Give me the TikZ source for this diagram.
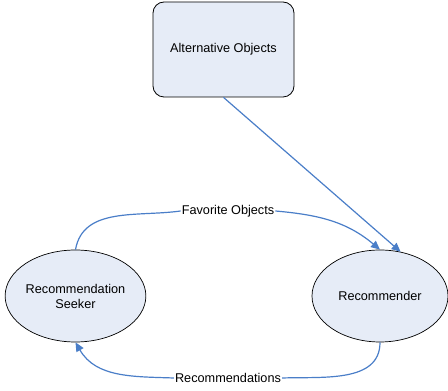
\documentclass[tikz,border=0pt]{standalone}
\usepackage{fontspec}
\setmainfont{Liberation Sans}
\usetikzlibrary{shapes.geometric,arrows.meta}
\definecolor{linkblue}{RGB}{74,126,200}
\definecolor{shapefill}{RGB}{230,236,247}
\tikzset{
  x=1pt,y=1pt,
  every node/.style={font=\fontsize{12.7}{15}\selectfont},
  boxnode/.style={draw=black,fill=shapefill,rounded corners=11pt,line width=0.8pt,minimum width=141pt,minimum height=95pt,inner sep=0pt},
  ellnode/.style={ellipse,draw=black,fill=shapefill,line width=0.7pt,minimum width=136pt,minimum height=92pt,inner sep=0pt,align=center},
  link/.style={draw=linkblue,line width=1.2pt},
  linkarrow/.style={link,-{Triangle[length=9pt,width=8pt]}},
  lbl/.style={inner sep=1pt}
}
\begin{document}
\begin{tikzpicture}
\useasboundingbox (0,0) rectangle (448,391);
\node[boxnode] (alt) at (223.5,341.5) {Alternative Objects};
\node[ellnode] (seeker) at (75.5,95) {Recommendation\\Seeker};
\node[ellnode] (rec) at (380,95) {Recommender};
\node[lbl] (fav) at (228,180) {Favorite Objects};
\node[lbl] (recs) at (228,13) {Recommendations};
\coordinate (altb) at (224,96.5+195);
\draw[linkarrow] (alt.south) -- (rec.65);
\draw[link] (seeker.north) to[out=80,in=188] (fav.west);
\draw[linkarrow] (fav.east) to[out=-5,in=140] (rec.north);
\draw[link] (rec.south) to[out=-90,in=2] (recs.east);
\draw[linkarrow] (recs.west) to[out=178,in=-60] (seeker.south);
\end{tikzpicture}
\end{document}
